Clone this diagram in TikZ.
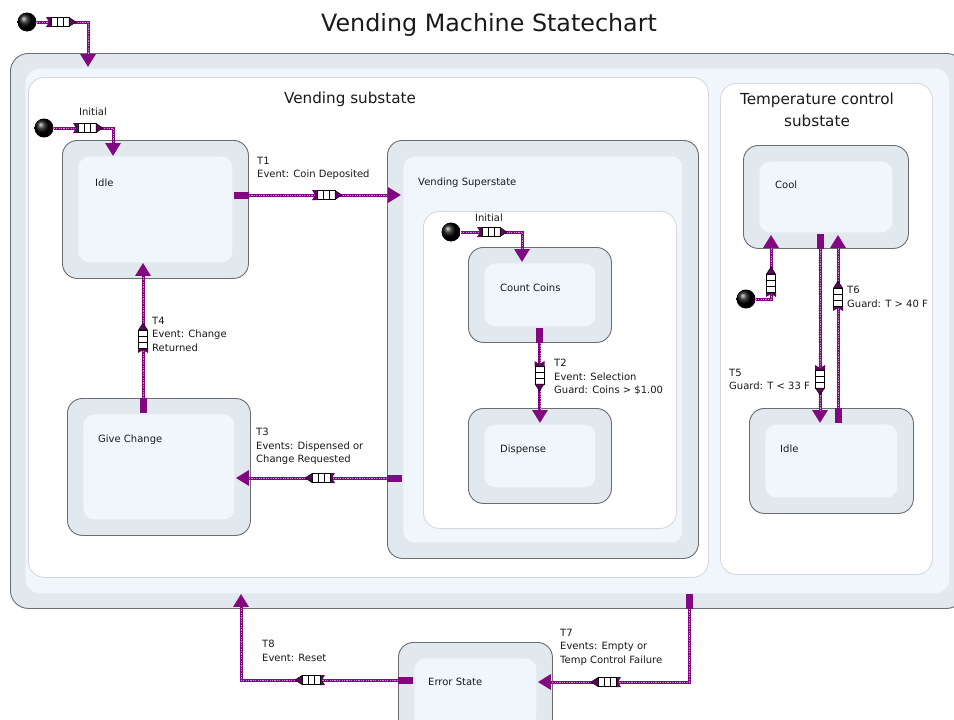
\documentclass[tikz,border=0pt]{standalone}
\usepackage{fontspec}
\setmainfont{DejaVu Sans}
\usetikzlibrary{arrows.meta,calc}

\definecolor{tpurple}{HTML}{820882}
\definecolor{tdot}{HTML}{D08CD0}
\definecolor{qdark}{HTML}{5A0A5A}
\definecolor{stfill}{HTML}{E1E8EE}
\definecolor{stinner}{HTML}{F0F6FB}
\definecolor{stborder}{HTML}{6A6E72}
\definecolor{regborder}{HTML}{D2D7DC}
\definecolor{txt}{HTML}{1A1A1A}

\tikzset{
  statebox/.style={draw=stborder, line width=0.9pt, fill=stfill, rounded corners=15pt,
    anchor=north west, inner sep=0pt,
    path picture={\fill[stinner, rounded corners=11pt]
      ([shift={(16pt,-16pt)}]path picture bounding box.north west) rectangle
      ([shift={(-16pt,16pt)}]path picture bounding box.south east);}},
  machinebox/.style={draw=stborder, line width=0.9pt, fill=stfill, rounded corners=18pt,
    anchor=north west, inner sep=0pt,
    path picture={\fill[stinner, rounded corners=15pt]
      ([shift={(15pt,-15pt)}]path picture bounding box.north west) rectangle
      ([shift={(-15pt,15pt)}]path picture bounding box.south east);}},
  regionbox/.style={draw=regborder, line width=0.8pt, fill=white, rounded corners=16pt,
    anchor=north west, inner sep=0pt},
  initdot/.style={circle, minimum size=19pt, inner sep=0pt, shading=ball, ball color=black},
  lbl/.style={font=\fontsize{10}{13.5}\selectfont, inner sep=0pt, text=txt, align=left},
  namelbl/.style={font=\fontsize{10}{13.5}\selectfont, inner sep=0pt, text=txt, anchor=base west},
  headlbl/.style={font=\fontsize{15.2}{22}\selectfont, inner sep=0pt, text=txt, align=center},
  trans/.style={draw=tpurple, line width=3pt,
    -{Triangle[length=13pt,width=15pt]},
    postaction={draw=tdot, line width=0.9pt, dash pattern=on 1.2pt off 1.2pt,
      arrows=-, shorten >=13pt}},
  stub/.style={draw=tpurple, line width=7pt},
  queue/.pic={
    \fill[qdark] (-15,-5) -- (-10,-5) -- (-10,5) -- (-15,5) -- (-12,0) -- cycle;
    \foreach \i in {0,1,2}
      \draw[fill=white, line width=0.6pt] (-10+6*\i,-4.5) rectangle (-4+6*\i,4.5);
    \filldraw[fill=qdark, draw=black, line width=0.5pt] (8,-4.5) -- (15,0) -- (8,4.5) -- cycle;
  },
}

\begin{document}
\begin{tikzpicture}[x=1pt, y=-1pt]
\useasboundingbox[fill=white] (0,0) rectangle (954,720);

% title
\node[font=\fontsize{23.8}{28}\selectfont, text=txt, inner sep=0pt] (title) at (489,25) {Vending Machine Statechart};

% the machine and its two concurrent regions
\node[machinebox, minimum width=954pt, minimum height=555pt] (machine) at (10,53) {};
\node[regionbox, minimum width=680pt, minimum height=500pt] (vregion) at (28,77) {};
\node[regionbox, minimum width=212pt, minimum height=491pt] (tregion) at (720,83) {};
\node[headlbl] (vhead) at (350,99) {Vending substate};
\node[headlbl] (thead) at (817,110) {Temperature control\\substate};

% vending region states
\node[statebox, minimum width=186pt, minimum height=138pt] (idle) at (62,140) {};
\node[statebox, minimum width=183pt, minimum height=137pt] (gc) at (67,398) {};
\node[statebox, minimum width=311pt, minimum height=418pt] (vsup) at (387,140) {};
\node[regionbox, minimum width=253pt, minimum height=317pt] (vsin) at (423,211) {};
\node[statebox, minimum width=143pt, minimum height=95pt] (cc) at (468,247) {};
\node[statebox, minimum width=143pt, minimum height=95pt] (disp) at (468,408) {};

% temperature region states
\node[statebox, minimum width=165pt, minimum height=103pt] (cool) at (743,145) {};
\node[statebox, minimum width=164pt, minimum height=105pt] (tidle) at (749,408) {};

% error state
\node[statebox, minimum width=154pt, minimum height=100pt] (err) at (398,642) {};

% state names
\node[namelbl] (nidle) at (95,186) {Idle};
\node[namelbl] (nvsup) at (418,185) {Vending Superstate};
\node[namelbl] (ncc) at (500,291) {Count Coins};
\node[namelbl] (ndisp) at (500,452) {Dispense};
\node[namelbl] (ngc) at (98,442) {Give Change};
\node[namelbl] (ncool) at (775,188) {Cool};
\node[namelbl] (ntidle) at (780,452) {Idle};
\node[namelbl] (nerr) at (428,685) {Error State};

% initial pseudostates
\node[initdot] (d0) at (27,22) {};
\node[initdot] (d1) at (44,128) {};
\node[initdot] (d2) at (451,232) {};
\node[initdot] (d3) at (746,299) {};
\node[lbl] (lini1) at (93,112) {Initial};
\node[lbl] (lini2) at (489,218) {Initial};

% initial transitions
\draw[trans] (d0) -| ([shift={(78pt,-14pt)}]machine.north west);
\draw[trans] (d1) -| ([shift={(51pt,-16pt)}]idle.north west);
\draw[trans] (d2) -| ([shift={(54pt,-15pt)}]cc.north west);
\draw[trans] (d3) -| ([shift={(28pt,14pt)}]cool.south west);
\pic at (61,22) {queue};
\pic at (88,128) {queue};
\pic at (492,232) {queue};
\pic[rotate=90] at (771,282) {queue};

% T1
\draw[trans] ([yshift=-55pt]idle.north east) -- ([shift={(14pt,-55pt)}]vsup.north west);
\draw[stub] ([yshift=-55pt]idle.north east) -- ([shift={(-15pt,-55pt)}]idle.north east);
\pic at (327,195) {queue};
\node[lbl, anchor=north west] (lt1) at (257,157) {T1\\Event: Coin Deposited};

% T2
\draw[trans] (cc.south) -- ($(cc.south |- disp.north)+(0,15)$);
\draw[stub] (cc.south) -- ([yshift=15pt]cc.south);
\pic[rotate=-90] at (539.5,376) {queue};
\node[lbl, anchor=north west] (lt2) at (554,359) {T2\\Event: Selection\\Guard: Coins > \$1.00};

% T3
\draw[trans] ([yshift=-338pt]vsup.north west) -- ([shift={(-15pt,-80pt)}]gc.north east);
\draw[stub] ([yshift=-338pt]vsup.north west) -- ([shift={(15pt,-338pt)}]vsup.north west);
\pic[rotate=180] at (320,478) {queue};
\node[lbl, anchor=north west] (lt3) at (256,428) {T3\\Events: Dispensed or\\Change Requested};

% T4
\draw[trans] ([xshift=76pt]gc.north west) -- ([shift={(81pt,16pt)}]idle.south west);
\draw[stub] ([xshift=76pt]gc.north west) -- ([shift={(76pt,-15pt)}]gc.north west);
\pic[rotate=90] at (143,338) {queue};
\node[lbl, anchor=north west] (lt4) at (152,317) {T4\\Event: Change\\Returned};

% T5
\draw[trans] ([xshift=77pt]cool.south west) -- ([shift={(71pt,-15pt)}]tidle.north west);
\draw[stub] ([xshift=77pt]cool.south west) -- ([shift={(77pt,15pt)}]cool.south west);
\pic[rotate=-90] at (820,380) {queue};
\node[lbl, anchor=north west] (lt5) at (729,369) {T5\\Guard: T < 33 F};

% T6
\draw[trans] ([xshift=89pt]tidle.north west) -- ([shift={(95pt,14pt)}]cool.south west);
\draw[stub] ([xshift=89pt]tidle.north west) -- ([shift={(89pt,-15pt)}]tidle.north west);
\pic[rotate=90] at (838,296) {queue};
\node[lbl, anchor=north west] (lt6) at (847,286) {T6\\Guard: T > 40 F};

% T7
\draw[trans] ([xshift=679pt]machine.south west) |- ([shift={(-15pt,-40pt)}]err.north east);
\draw[stub] ([xshift=679pt]machine.south west) -- ([shift={(679pt,15pt)}]machine.south west);
\pic[rotate=180] at (606,682) {queue};
\node[lbl, anchor=north west] (lt7) at (560,629) {T7\\Events: Empty or\\Temp Control Failure};

% T8
\draw[trans] ([yshift=-38pt]err.north west) -| ([shift={(231pt,15pt)}]machine.south west);
\draw[stub] ([yshift=-38pt]err.north west) -- ([shift={(15pt,-38pt)}]err.north west);
\pic[rotate=180] at (310,680) {queue};
\node[lbl, anchor=north west] (lt8) at (262,640) {T8\\Event: Reset};
\end{tikzpicture}
\end{document}
